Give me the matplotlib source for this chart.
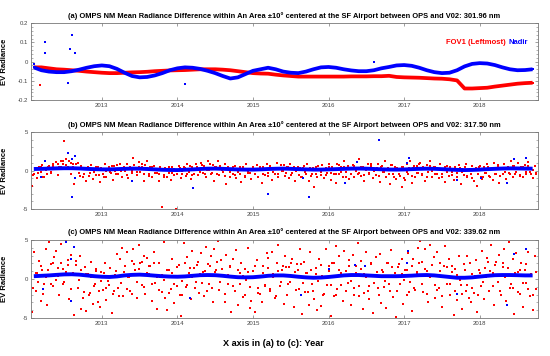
import numpy as np
import matplotlib
matplotlib.use("Agg")
import matplotlib.pyplot as plt
from matplotlib.ticker import MultipleLocator

plt.rcParams['font.family'] = ['Liberation Sans', 'DejaVu Sans']

# ---- data ----
# smooth bands, one value every 0.1 year from 2012.1 to 2018.7
t_band = np.arange(2012.1, 2018.75, 0.1)
red_a = [-0.030, -0.030, -0.035, -0.040, -0.042, -0.045, -0.048, -0.052, -0.055, -0.058,
         -0.060, -0.060, -0.058, -0.056, -0.055, -0.053, -0.050, -0.048, -0.046, -0.045,
         -0.044, -0.042, -0.040, -0.040, -0.040, -0.042, -0.045, -0.050, -0.055, -0.060,
         -0.062, -0.063, -0.068, -0.072, -0.075, -0.078, -0.078, -0.078, -0.078, -0.078,
         -0.078, -0.078, -0.077, -0.077, -0.077, -0.076, -0.076, -0.074, -0.080, -0.082,
         -0.083, -0.084, -0.086, -0.088, -0.089, -0.092, -0.098, -0.140, -0.140, -0.138,
         -0.136, -0.130, -0.125, -0.120, -0.115, -0.112, -0.110]
blue_a = [-0.030, -0.045, -0.052, -0.055, -0.055, -0.050, -0.042, -0.032, -0.024, -0.020,
          -0.024, -0.038, -0.058, -0.075, -0.082, -0.080, -0.072, -0.060, -0.045, -0.035,
          -0.030, -0.032, -0.038, -0.048, -0.060, -0.075, -0.088, -0.082, -0.065, -0.048,
          -0.040, -0.032, -0.040, -0.052, -0.058, -0.060, -0.052, -0.040, -0.030, -0.028,
          -0.032, -0.040, -0.046, -0.050, -0.050, -0.045, -0.035, -0.028, -0.020, -0.018,
          -0.022, -0.032, -0.045, -0.055, -0.060, -0.058, -0.045, -0.025, -0.012, -0.008,
          -0.010, -0.018, -0.030, -0.040, -0.045, -0.044, -0.040]
blue_b = [0.20, 0.22, 0.25, 0.28, 0.30, 0.30, 0.27, 0.22, 0.18, 0.15,
          0.15, 0.18, 0.22, 0.25, 0.24, 0.20, 0.15, 0.10, 0.07, 0.06,
          0.10, 0.15, 0.20, 0.24, 0.25, 0.22, 0.18, 0.14, 0.12, 0.12,
          0.15, 0.20, 0.23, 0.25, 0.22, 0.18, 0.15, 0.12, 0.12, 0.15,
          0.18, 0.22, 0.25, 0.26, 0.24, 0.20, 0.16, 0.13, 0.12, 0.14,
          0.18, 0.22, 0.24, 0.22, 0.18, 0.13, 0.08, 0.06, 0.08, 0.12,
          0.18, 0.22, 0.26, 0.28, 0.27, 0.25, 0.24]
blue_c = [0.35, 0.40, 0.45, 0.52, 0.58, 0.60, 0.55, 0.45, 0.35, 0.28,
          0.25, 0.32, 0.45, 0.52, 0.55, 0.50, 0.42, 0.35, 0.30, 0.28,
          0.32, 0.40, 0.48, 0.50, 0.48, 0.40, 0.30, 0.22, 0.20, 0.22,
          0.30, 0.40, 0.45, 0.45, 0.38, 0.28, 0.20, 0.15, 0.18, 0.25,
          0.35, 0.45, 0.50, 0.50, 0.45, 0.40, 0.35, 0.35, 0.35, 0.38,
          0.42, 0.48, 0.50, 0.45, 0.35, 0.25, 0.15, 0.15, 0.20, 0.30,
          0.40, 0.48, 0.50, 0.50, 0.48, 0.45, 0.45]

# scattered FOV1 points, evenly spread in time over the record
t_start, t_end = 2012.08, 2018.75
red_b = [-2.0, -0.4, 0.3, -1.0, 0.5, -0.2, 0.7, -0.8, 0.1, -0.5,
         0.6, -0.3, 0.9, 0.2, 1.1, -0.6, 0.4, 1.3, 0.8, 3.8,
         1.5, 0.5, 1.2, -0.4, 0.9, -1.8, 0.3, 1.0, -0.7, 0.6,
         -0.9, 0.2, -1.3, 0.5, -0.3, 0.7, -1.1, 0.1, -0.6, 0.4,
         -1.5, 0.3, -0.5, 0.8, -0.9, 0.2, -0.2, 0.6, -1.2, 0.0,
         0.7, -0.4, 0.9, -0.8, 0.3, -0.1, 0.8, -1.0, 0.5, -0.3,
         1.6, 0.2, -0.6, 1.1, -0.2, 0.5, -1.3, 0.7, 1.3, -0.5,
         0.4, -0.9, 0.6, -0.3, 0.2, -1.4, 0.5, -4.7, -0.6, 0.3,
         -0.8, 0.4, -1.2, -0.3, 0.2, -5.0, -0.5, 0.6, -1.0, -0.1,
         0.5, -0.7, 0.8, -0.2, -1.1, 0.4, -0.4, 0.9, -0.6, 0.2,
         1.0, -0.3, 0.6, -0.9, 1.2, 0.1, -0.5, 0.7, -1.4, 0.4,
         1.3, -0.6, 0.3, -0.2, 0.9, -1.8, 0.5, -0.8, 0.2, -0.4,
         0.6, -1.0, -0.2, 0.4, -1.5, 0.3, -0.7, 0.8, -0.3, 0.1,
         -1.1, 0.5, -0.4, 0.7, -0.9, 0.2, -1.6, 0.4, -0.6, 0.9,
         -0.3, 0.6, -1.2, 0.3, -0.5, 1.0, -0.8, 0.2, -0.1, 0.7,
         -0.7, 0.4, -1.0, 0.8, -0.3, 0.5, -1.4, 0.1, -0.6, 0.3,
         -0.9, 0.6, -0.2, 0.9, -1.3, 0.3, -0.5, -2.2, 0.4, -0.8,
         0.2, -0.6, 0.7, -1.0, 0.3, -0.3, 0.8, -1.2, 0.5, -0.4,
         -1.6, 0.9, -0.5, 0.4, -0.9, 1.2, -0.2, 0.6, -1.1, 0.2,
         0.7, -0.8, 0.3, -0.4, 1.5, -0.7, 0.5, -1.3, 0.1, 0.8,
         -0.3, 0.6, -1.0, 0.2, -0.6, 0.9, -1.5, 0.4, -0.2, 1.2,
         -0.9, 0.3, -1.8, 0.7, -0.4, 0.5, -1.1, 0.2, -0.7, -2.1,
         0.4, -1.2, 0.8, -0.5, 1.3, -1.6, 0.3, -0.8, 0.6, -0.3,
         1.0, -0.6, 0.4, -1.3, 0.7, -0.2, 1.2, -0.9, 0.5, -0.4,
         0.3, -1.0, 0.8, -0.5, 0.2, -1.5, 0.6, -0.7, 0.4, -0.2,
         -1.2, 0.5, -0.3, 0.7, -1.7, 0.2, -0.6, 0.9, -0.9, 0.1,
         -0.5, 0.6, -1.4, 0.3, -2.0, 0.4, -0.8, -1.1, 0.5, -0.3,
         0.8, -0.7, 0.2, -1.2, 1.0, -0.4, 0.6, -1.6, 0.3, -0.5,
         0.9, -1.1, 0.4, -0.3, 1.3, -0.8, 0.6, -0.2, 1.0, -0.6,
         0.5, -0.9, 0.7, -0.4, 1.1, -0.2, 0.3, -1.0, 0.6, -0.5]
red_b_core = [-0.6, 0.2, -0.3, 0.5, -0.8, 0.1, 0.4, -0.2, 0.6, 0.3,
              0.9, 0.5, 1.2, 0.7, 0.2, 1.0, 0.4, 0.8, -0.3, 0.6,
              -0.4, 0.3, -0.7, 0.1, -0.2, 0.5, -0.6, 0.2, -0.9, -0.1,
              0.4, -0.3, 0.6, -0.5, 0.2, -0.1, 0.5, -0.6, 0.3, 0.0,
              0.7, -0.2, 0.4, 0.9, -0.4, 0.3, -0.7, 0.5, 0.1, -0.3,
              -0.5, 0.2, -0.8, 0.1, -0.3, 0.4, -0.6, -0.1, 0.3, -0.4,
              0.3, -0.4, 0.6, -0.6, 0.2, 0.5, -0.2, 0.7, -0.5, 0.1,
              0.8, -0.3, 0.4, -0.5, 0.6, 0.1, -0.7, 0.3, -0.2, 0.5,
              -0.6, 0.2, -0.4, 0.5, -0.8, 0.0, -0.3, 0.4, -0.5, 0.1,
              0.4, -0.5, 0.2, -0.7, 0.6, -0.2, 0.3, -0.4, 0.7, -0.1,
              -0.3, 0.5, -0.6, 0.2, -0.1, 0.4, -0.8, 0.3, -0.5, 0.1,
              -0.7, 0.3, -0.4, 0.6, -0.2, 0.1, -0.6, 0.4, -0.3, 0.2,
              -0.5, 0.7, -0.2, 0.4, -0.8, 0.2, -0.4, 0.6, 0.0, -0.3,
              0.5, -0.6, 0.2, -0.4, 0.8, -0.1, 0.3, -0.7, 0.6, -0.2,
              0.1, -0.5, 0.7, -0.9, 0.3, -0.4, 0.5, -1.0, -0.2, 0.3,
              -0.7, 0.6, -0.3, 0.8, -0.5, 0.2, -0.9, 0.6, -0.1, 0.4,
              -0.4, 0.2, -0.8, 0.5, -0.2, 0.4, -0.6, 0.1, -0.9, 0.3,
              -0.2, 0.4, -0.7, 0.2, -1.0, 0.1, -0.5, 0.6, -0.8, -0.3,
              0.4, -0.8, 0.2, -0.4, 0.7, -0.7, 0.3, -0.2, 0.5, -0.5,
              0.6, -0.4, 0.3, -0.7, 0.5, -0.2, 0.6, -0.5, 0.1, -0.3]
red_c = [-4.2, 3.4, -1.5, 0.8, 2.3, -2.8, 1.2, -0.6, 3.9, -3.3,
         4.8, 1.9, -0.9, 2.8, 3.6, 0.4, -2.1, 4.5, 1.3, -0.4,
         4.9, 2.4, -2.6, 3.1, 0.7, -4.6, 1.8, -1.2, 2.9, -3.8,
         -2.4, 1.5, -4.1, 0.6, -1.8, 2.2, -3.2, -0.7, 1.0, -2.9,
         -3.6, 0.9, -1.4, 2.0, -2.7, -0.3, 1.4, -4.4, -1.9, 0.5,
         3.2, -1.1, 2.6, 4.0, -2.2, 1.7, 3.5, 0.3, -1.6, 2.3,
         3.9, 1.2, -2.5, 4.3, 2.0, -0.8, 3.0, -1.9, 2.7, 0.6,
         1.6, -2.8, 3.4, -0.5, -3.9, 2.1, 0.2, -1.7, 4.7, -2.4,
         -4.0, 1.1, -1.3, 2.5, -3.1, 0.4, -0.9, 1.8, -4.8, -2.0,
         4.6, -1.0, 2.8, 0.7, -2.6, 3.6, 1.4, -0.4, 2.2, -1.8,
         3.3, 0.9, -2.2, 4.1, 1.9, -0.6, 2.9, -3.0, 3.8, 1.1,
         4.9, -1.4, 2.4, 0.5, -2.9, 3.1, -0.7, 1.6, -4.2, 2.6,
         -1.6, 3.7, -3.4, 0.8, 2.1, -2.3, 1.3, -0.2, 4.0, -3.7,
         -2.8, 1.0, -4.3, 2.4, -1.2, 0.3, -3.0, 1.7, -0.8, 3.3,
         2.7, -1.5, 3.5, 0.6, -2.4, 2.0, 4.4, -0.9, 1.2, -3.2,
         3.0, -2.0, 1.5, -0.4, 2.6, -3.6, 0.9, 1.9, -1.3, 3.9,
         -4.5, 2.2, -1.7, 0.7, -3.3, 3.4, -0.6, -2.6, 1.4, -4.0,
         2.5, -3.5, 0.4, -1.9, 3.8, -0.8, 1.6, -4.7, 2.0, -2.2,
         4.2, -1.3, 2.9, 0.8, -2.8, 3.6, 1.0, -0.5, 2.4, -3.4,
         3.1, -2.1, 1.7, 4.6, -0.9, 2.3, -3.9, 0.6, 3.5, -1.5,
         -2.6, 1.9, -4.4, 0.5, 2.8, -1.1, 3.2, -3.1, 0.9, -0.3,
         -3.7, 2.1, -1.6, 3.7, -2.3, 0.7, -4.9, 1.5, -0.7, 2.6,
         -3.2, 1.2, -2.0, 3.3, -0.4, -4.1, 2.5, -1.4, 0.8, 4.0,
         4.9, 2.2, -1.7, 3.9, 1.0, -3.0, 4.4, 0.5, 2.8, -2.5,
         3.4, -1.2, 2.0, -3.6, 1.6, 4.2, -0.6, 2.5, -2.0, 0.9,
         -4.6, 1.3, -2.7, 2.9, -0.8, -3.8, 1.9, -1.5, 3.0, -2.4,
         -3.0, 0.6, -1.8, 2.4, -4.3, 1.1, -0.9, 3.6, -2.6, 0.3,
         2.7, -1.6, 4.3, 0.8, -3.3, 2.2, -0.4, 3.1, -2.1, 1.5,
         3.8, -2.8, 1.4, 4.7, -0.7, 2.6, -4.5, 3.3, 0.9, -1.9,
         2.0, -3.6, 1.1, -0.5, 3.4, -2.2, 0.6, -4.0, 2.9, -1.3]
red_c_core = [-1.2, 0.8, -0.4, 1.6, -1.9, 0.3, 1.1, -0.7, 2.0, -0.2,
              1.4, 2.1, -0.6, 0.9, 1.8, -1.3, 0.5, 2.3, -0.1, 1.2,
              -1.7, 0.6, -2.1, 0.2, -0.9, 1.3, -1.5, -0.3, 0.7, -1.1,
              -0.8, 0.4, -1.6, 1.0, -2.2, -0.5, 0.9, -1.3, 0.2, -1.9,
              1.9, -0.4, 1.3, 2.2, -1.0, 0.7, 1.6, -0.6, 2.0, 0.3,
              -1.4, 0.5, -0.2, 1.1, -1.8, 0.8, -0.7, 1.5, -2.0, -0.3,
              2.1, -0.8, 1.4, 0.2, -1.2, 1.8, 0.6, -0.5, 1.0, -1.6,
              1.7, -1.1, 0.9, 2.2, -0.4, 1.3, -1.9, 0.5, 1.5, -0.9,
              -1.5, 1.2, -0.6, 0.4, -2.1, 0.9, -1.0, 0.1, 1.7, -1.8,
              -1.9, 0.7, -0.9, 1.4, -1.3, 0.2, -2.2, 1.0, -0.4, 1.6,
              1.5, -0.7, 2.0, 0.4, -1.4, 1.1, 1.9, -0.5, 0.8, -1.7,
              1.2, -1.6, 0.6, -0.3, 1.8, -2.0, 0.3, 1.0, -0.8, 2.1,
              -2.0, 1.1, -0.8, 0.5, -1.6, 1.7, -0.3, -1.2, 0.8, -2.2,
              1.3, -1.8, 0.2, -0.9, 2.0, -0.5, 0.9, -2.1, 1.1, -1.0,
              2.0, -0.7, 1.5, 0.4, -1.5, 1.9, 0.6, -0.2, 1.2, -1.7,
              1.6, -1.2, 0.9, 2.1, -0.6, 1.3, -1.9, 0.3, 1.8, -0.8,
              -1.4, 1.0, -2.2, 0.3, 1.5, -0.6, 1.7, -1.6, 0.5, -0.2,
              -1.9, 1.1, -0.8, 2.0, -1.2, 0.4, -2.1, 0.8, -0.4, 1.4,
              2.2, 1.0, -0.9, 1.8, 0.5, -1.5, 2.1, 0.2, 1.4, -1.2,
              -1.1, 0.7, -1.7, 1.2, -0.5, 1.9, -1.3, 0.6, -2.0, 0.9]

# isolated outliers
red_out_a_t = [2012.18]
red_out_a_v = [-0.12]
blue_out_a_t = [2012.10, 2012.25, 2012.25, 2012.55, 2012.58, 2012.60, 2012.65, 2014.10, 2016.60]
blue_out_a_v = [-0.01, 0.10, 0.045, -0.11, 0.065, 0.14, 0.045, -0.115, 0.0]
blue_out_b_t = [2012.20, 2012.25, 2012.55, 2012.60, 2012.60, 2012.65, 2012.65, 2013.40, 2014.20,
                2015.20, 2015.66, 2015.74, 2016.22, 2016.37, 2016.67, 2017.04, 2017.07,
                2017.70, 2018.02, 2018.36, 2018.46, 2018.61]
blue_out_b_v = [-0.8, 1.2, 2.3, 1.5, -3.5, 1.9, -1.0, -1.4, -2.3,
                -3.0, -0.95, -3.4, -1.6, 1.1, 4.0, 1.0, 1.6,
                -1.2, -0.95, -1.6, 1.5, 1.6]
blue_out_c_t = [2012.22, 2012.53, 2012.59, 2012.59, 2012.63, 2014.17, 2015.63, 2016.00,
                2016.35, 2016.48, 2017.04, 2017.05, 2017.70, 2018.36, 2018.46, 2018.61]
blue_out_c_v = [-1.3, 4.8, 2.6, -2.8, 4.1, -2.5, -2.0, 1.3,
                1.8, 1.6, 2.0, 3.6, -1.9, -3.3, 3.2, 3.8]

years = [2013, 2014, 2015, 2016, 2017, 2018]
titles = ["(a) OMPS NM Mean Radiance Difference within An Area \u00b110\u00b0 centered at the SF Airport between OPS and V02: 301.96 nm",
          "(b) OMPS NM Mean Radiance Difference within An Area \u00b110\u00b0 centered at the SF Airport between OPS and V02: 317.50 nm",
          "(c) OMPS NM Mean Radiance Difference within An Area \u00b110\u00b0 centered at the SF Airport between OPS and V02: 339.62 nm"]

RED = '#ff0000'
BLUE = '#0000ff'
MS = 1.9

fig = plt.figure(figsize=(5.5, 3.56), dpi=100)
L, W = 0.056, 0.922
ax_a = fig.add_axes([L, 0.719, W, 0.216])
ax_b = fig.add_axes([L, 0.413, W, 0.216])
ax_c = fig.add_axes([L, 0.107, W, 0.219])

t_b = np.linspace(t_start, t_end, len(red_b))
t_b2 = np.linspace(t_start + 0.01, t_end - 0.01, len(red_b_core))
t_c = np.linspace(t_start, t_end, len(red_c))
t_c2 = np.linspace(t_start + 0.01, t_end - 0.01, len(red_c_core))

# (a)
ax_a.plot(t_band, red_a, '-', color=RED, lw=2.7, solid_capstyle='butt')
ax_a.plot(t_band, red_a, 's', color=RED, ms=MS, mew=0)
ax_a.plot(t_band, blue_a, '-', color=BLUE, lw=2.7, solid_capstyle='butt')
ax_a.plot(t_band, blue_a, 's', color=BLUE, ms=MS, mew=0)
ax_a.plot(red_out_a_t, red_out_a_v, 's', color=RED, ms=MS, mew=0)
ax_a.plot(blue_out_a_t, blue_out_a_v, 's', color=BLUE, ms=MS, mew=0)
ax_a.set_ylim(-0.2, 0.2)
ax_a.set_yticks([-0.2, -0.1, 0, 0.1, 0.2])
ax_a.set_yticklabels(['-0.2', '-0.1', '0', '0.1', '0.2'])
ax_a.yaxis.set_minor_locator(MultipleLocator(0.02))
ax_a.text(0.937, 0.75, 'FOV1 (Leftmost)', color=RED, fontsize=5.5, fontweight='bold',
          ha='right', va='center', transform=ax_a.transAxes)
ax_a.text(0.980, 0.75, 'Nadir', color=BLUE, fontsize=5.5, fontweight='bold',
          ha='right', va='center', transform=ax_a.transAxes)

# (b)
ax_b.plot(t_b, red_b, 's', color=RED, ms=MS, mew=0)
ax_b.plot(t_b2, red_b_core, 's', color=RED, ms=MS, mew=0)
ax_b.plot(t_band, blue_b, '-', color=BLUE, lw=2.8, solid_capstyle='butt')
ax_b.plot(blue_out_b_t, blue_out_b_v, 's', color=BLUE, ms=MS, mew=0)
ax_b.set_ylim(-5, 5)

# (c)
ax_c.plot(t_c, red_c, 's', color=RED, ms=MS, mew=0)
ax_c.plot(t_c2, red_c_core, 's', color=RED, ms=MS, mew=0)
ax_c.plot(t_band, blue_c, '-', color=BLUE, lw=2.8, solid_capstyle='butt')
ax_c.plot(blue_out_c_t, blue_out_c_v, 's', color=BLUE, ms=MS, mew=0)
ax_c.set_ylim(-5, 5)

for ax in (ax_b, ax_c):
    ax.set_yticks([-5, 0, 5])
    ax.set_yticklabels(['-5', '0', '5'])
    ax.yaxis.set_minor_locator(MultipleLocator(1))

for ax, title in zip((ax_a, ax_b, ax_c), titles):
    ax.set_xlim(2012.06, 2018.77)
    ax.set_xticks(years)
    ax.set_xticklabels([str(y) for y in years])
    ax.tick_params(which='both', direction='in', top=True, right=True,
                   labelsize=4.3, labelcolor='#444444', color='#777777', pad=2)
    ax.tick_params(which='major', length=2.5, width=0.5)
    ax.tick_params(which='minor', length=1.5, width=0.4)
    for s in ax.spines.values():
        s.set_color('#777777')
        s.set_linewidth(0.6)
    ax.set_title(title, fontsize=5.4, fontweight='bold', pad=4)
    ax.set_ylabel('EV Radiance', fontsize=5.5, fontweight='bold')
    ax.yaxis.set_label_coords(-0.045, 0.5)

fig.text(0.497, 0.034, 'X axis in (a) to (c): Year', fontsize=6.6, fontweight='bold',
         ha='center', va='center')

fig.savefig('out.png', dpi=100)
